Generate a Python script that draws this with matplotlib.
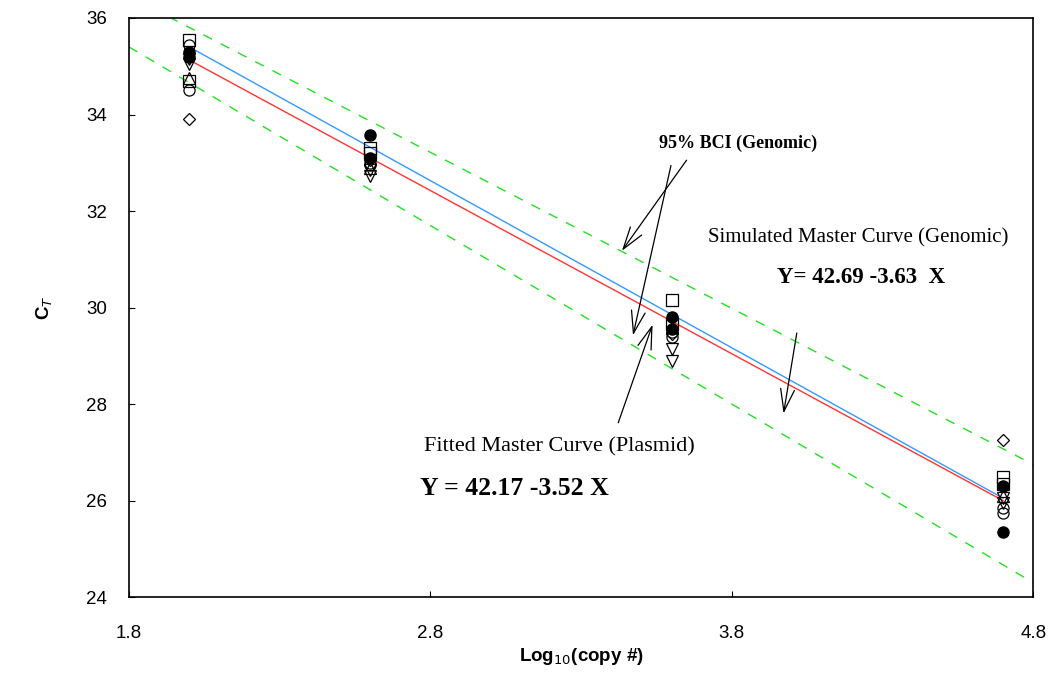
import numpy as np
import matplotlib.pyplot as plt

# log10 copy numbers of the standards
conc = [2.0, 2.6, 3.6, 4.7]

# CT replicates, one list per marker type
ct_open_circle = [35.45, 32.95, 29.4, 25.85]
ct_filled_circle = [35.3, 33.57, 29.8, 25.35]
ct_open_square = [35.55, 33.3, 30.15, 26.5]
ct_tri_down = [35.05, 32.72, 28.9, 25.95]
ct_diamond = [33.9, 33.05, 29.45, 27.25]
ct_filled_b = [35.2, 33.1, 29.55, 26.3]
ct_square_b = [34.7, 33.2, 29.65, 26.35]
ct_tri_up = [34.75, 32.9, 29.6, 26.1]
ct_circle_b = [34.5, 33.0, 29.5, 25.75]
ct_tri_down_b = [35.15, 32.85, 29.15, 26.05]

# master curves and 95% band, endpoints
fit_x = [2.0, 4.7]
fitted_plasmid = [35.13, 26.0]
simulated_genomic = [35.4, 26.05]
bci_x = [1.8, 4.8]
bci_upper = [36.45, 26.75]
bci_lower = [35.4, 24.3]

plt.rcParams['font.family'] = ['Liberation Sans', 'DejaVu Sans']
fig = plt.figure(figsize=(10.49, 6.92), dpi=100)
ax = fig.add_axes([0.123, 0.137, 0.862, 0.837])

ax.plot(bci_x, bci_upper, color="#22e022", linestyle=(0, (7, 7)), lw=1)
ax.plot(bci_x, bci_lower, color="#22e022", linestyle=(0, (7, 7)), lw=1)
ax.plot(fit_x, simulated_genomic, color="#3399ff", lw=1)
ax.plot(fit_x, fitted_plasmid, color="#ff3333", lw=1)

ms = 8
open_kw = dict(linestyle="none", markerfacecolor="none", markeredgecolor="black", markeredgewidth=0.9, markersize=ms)
ax.plot(conc, ct_open_square, marker="s", **open_kw)
ax.plot(conc, ct_square_b, marker="s", **open_kw)
ax.plot(conc, ct_open_circle, marker="o", **open_kw)
ax.plot(conc, ct_circle_b, marker="o", **open_kw)
ax.plot(conc, ct_tri_down, marker="v", **open_kw)
ax.plot(conc, ct_tri_down_b, marker="v", **open_kw)
ax.plot(conc, ct_tri_up, marker="^", **open_kw)
ax.plot(conc, ct_diamond, marker="D", **dict(open_kw, markersize=6.5))
ax.plot(conc, ct_filled_circle, marker="o", linestyle="none", color="black", markersize=ms)
ax.plot(conc, ct_filled_b, marker="o", linestyle="none", color="black", markersize=ms)

ax.set_xlim(1.8, 4.8)
ax.set_ylim(24, 36)
ax.set_xticks([1.8, 2.8, 3.8, 4.8])
ax.set_yticks([24, 26, 28, 30, 32, 34, 36])
ax.tick_params(direction="in", length=4, labelsize=13.5)
ax.tick_params(axis="x", pad=20)
ax.tick_params(axis="y", pad=16)
for s in ax.spines.values():
    s.set_linewidth(1.2)

ax.set_xlabel(r"Log$_{10}$(copy #)", fontsize=13.5, fontweight="bold", labelpad=3)
ax.set_ylabel(r"C$_T$", fontsize=13.5, fontweight="bold", labelpad=22)

serif = ['Liberation Serif', 'DejaVu Serif']
arrow = dict(arrowstyle="->,head_length=0.8,head_width=0.25", color="black", lw=0.9, mutation_scale=20)
ax.text(3.82, 33.4, "95% BCI (Genomic)", family=serif, fontsize=13, fontweight="bold", ha="center", va="center")
ax.annotate("", xy=(3.43, 31.13), xytext=(3.655, 33.1), arrowprops=arrow)
ax.annotate("", xy=(3.47, 29.37), xytext=(3.6, 33.0), arrowprops=arrow)

ax.text(4.22, 31.44, "Simulated Master Curve (Genomic)", family=serif, fontsize=15, ha="center", va="center")
ax.text(4.23, 30.63, "Y= 42.69 -3.63  X", family=serif, fontsize=16.5, fontweight="bold", ha="center", va="center")
ax.annotate("", xy=(3.97, 27.75), xytext=(4.017, 29.53), arrowprops=arrow)

ax.text(3.227, 27.11, "Fitted Master Curve (Plasmid)", family=serif, fontsize=16, ha="center", va="center")
ax.text(3.08, 26.26, "Y = 42.17 -3.52 X", family=serif, fontsize=18.5, fontweight="bold", ha="center", va="center")
ax.annotate("", xy=(3.54, 29.7), xytext=(3.42, 27.56), arrowprops=arrow)

fig.savefig("out.png", dpi=100)
